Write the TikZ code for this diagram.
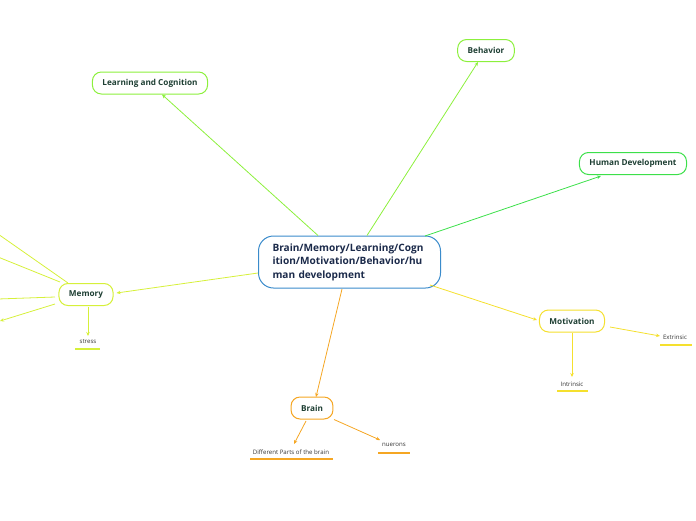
\documentclass[tikz,border=0pt]{standalone}
\usepackage{fontspec}
\setmainfont{Open Sans}
\usetikzlibrary{arrows.meta}
\definecolor{cblue}{HTML}{3A8BCB}
\definecolor{ctext}{HTML}{1B2A4A}
\definecolor{gtext}{HTML}{1E3F33}
\definecolor{clime}{HTML}{8CF03C}
\definecolor{cgreen}{HTML}{3CE04A}
\definecolor{cyg}{HTML}{D6F03A}
\definecolor{cyel}{HTML}{F5E02E}
\definecolor{corg}{HTML}{F5A623}
\tikzset{
  topic/.style={draw=#1, line width=1pt, rounded corners=9pt, text=gtext, font=\bfseries\fontsize{8.2}{9}\selectfont, inner xsep=10pt, inner ysep=0pt, minimum height=22pt, fill=white},
  leaf/.style={font=\fontsize{6.1}{7}\selectfont, text=black!80, inner sep=1pt},
  uline/.style={draw=#1, line width=1.2pt},
  conn/.style={draw=#1, line width=0.8pt, -{Stealth[length=4pt,width=3.5pt]}},
}
\begin{document}
\begin{tikzpicture}[x=1pt,y=-1pt]
\useasboundingbox (0,0) rectangle (696,520);
% central
\node[draw=cblue, line width=1pt, rounded corners=15pt, text=ctext, font=\bfseries\fontsize{10.1}{13.5}\selectfont, align=left, text width=154pt, minimum height=52pt, inner xsep=14pt, anchor=west] (c) at (258,262) {Brain/Memory/Learning/Cogn\\ition/Motivation/Behavior/hu\\man development};
% topics
\node[topic=clime] (lc) at (150,83) {Learning and Cognition};
\node[topic=clime] (beh) at (486,50.5) {Behavior};
\node[topic=cgreen] (hd) at (633,163.5) {Human Development};
\node[topic=cyg] (mem) at (86,294.5) {Memory};
\node[topic=cyel] (mot) at (572,321) {Motivation};
\node[topic=corg] (br) at (312,408) {Brain};
% leaves
\node[leaf] (st) at (88,342) {stress};
\node[leaf] (dp) at (291,452) {Different Parts of the brain};
\node[leaf] (nu) at (394,445) {nuerons};
\node[leaf] (in) at (572,384) {Intrinsic};
\node[leaf] (ex) at (675,337) {Extrinsic};
\draw[uline=cyg] (75,349) -- (100,349);
\draw[uline=corg] (250,459) -- (333,459);
\draw[uline=corg] (378,453) -- (410,453);
\draw[uline=cyel] (557,391) -- (588,391);
\draw[uline=cyel] (660,345) -- (692,345);
% off-page coordinates
\coordinate (m1) at (-2,234);
\coordinate (m2) at (-2,257);
\coordinate (m3) at (-2,299);
\coordinate (m4) at (0,321);
% connectors
\draw[conn=clime] (c.north -| 318,0) -- (162,94.5);
\draw[conn=clime] (c.north -| 367,0) -- (478,62);
\draw[conn=cgreen] (425,236) -- (601,176);
\draw[conn=cyg] (c.west |- 0,273) -- (116.5,293);
\draw[conn=cyel] (430,285) -- (537,320);
\draw[conn=corg] (342,289) -- (316,397);
\draw[draw=cyg, line width=0.8pt] (68,283) -- (m1);
\draw[draw=cyg, line width=0.8pt] (60,282) -- (m2);
\draw[draw=cyg, line width=0.8pt] (55,297) -- (m3);
\draw[conn=cyg] (55,304) -- (m4);
\draw[conn=cyg] (88,307) -- (88,336);
\draw[conn=corg] (306,421) -- (294,444);
\draw[conn=corg] (334,419.5) -- (380,440);
\draw[conn=cyel] (572,333) -- (572,377);
\draw[conn=cyel] (610,327) -- (660,336);
\end{tikzpicture}
\end{document}
